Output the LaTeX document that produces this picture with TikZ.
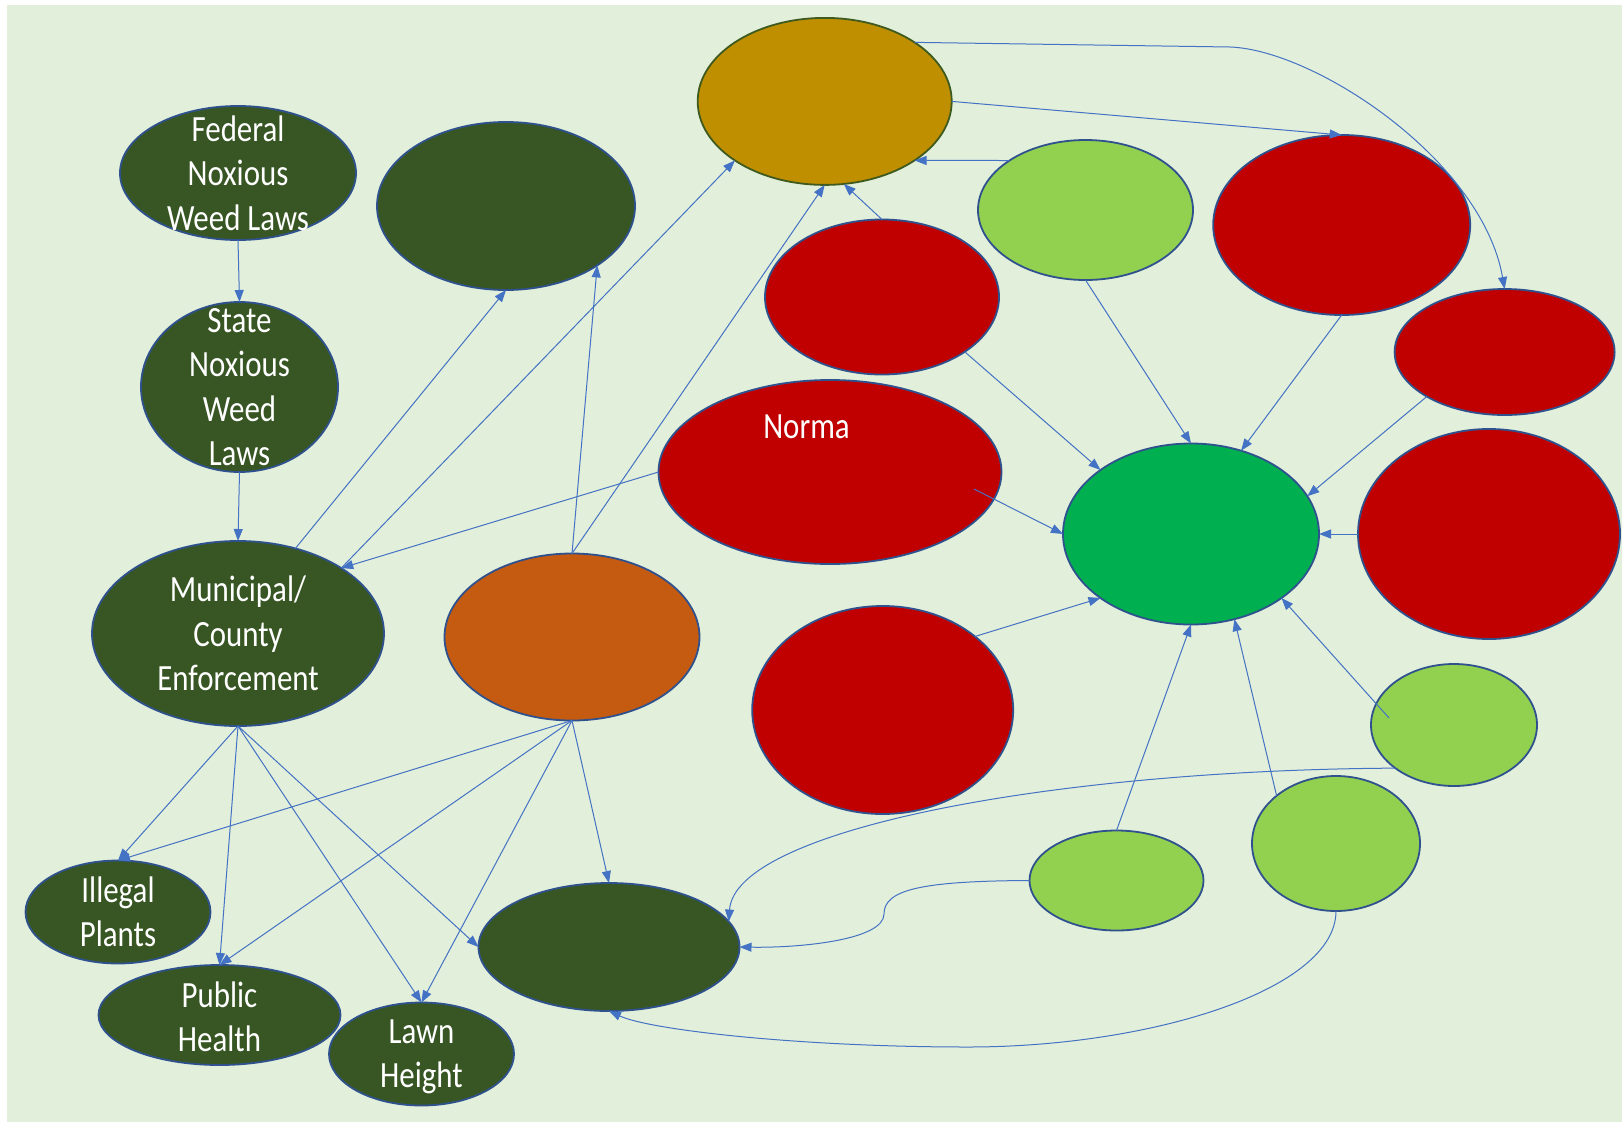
\documentclass[tikz,border=0pt]{standalone}
\usepackage{fontspec}
\usetikzlibrary{shapes.geometric,arrows.meta}
\newfontfamily\lblfont[FakeStretch=0.835]{Carlito}
\definecolor{bgc}{HTML}{E2EFDA}
\definecolor{dkg}{HTML}{375623}
\definecolor{goldc}{HTML}{BF8F00}
\definecolor{redc}{HTML}{C00000}
\definecolor{hubc}{HTML}{00B050}
\definecolor{lgc}{HTML}{92D050}
\definecolor{orngc}{HTML}{C55A11}
\definecolor{outl}{HTML}{2F528F}
\definecolor{goldoutl}{HTML}{3F5A1E}
\definecolor{lineblue}{HTML}{4472C4}
\begin{document}
\begin{tikzpicture}[x=1pt,y=-1pt,
  ell/.style={ellipse, draw=outl, line width=1.8pt, inner sep=0pt, outer sep=0pt},
  lbl/.style={text=white, font=\lblfont\fontsize{37}{44.5}\selectfont, align=center, inner sep=0pt},
  conn/.style={draw=lineblue, line width=1pt, -{Triangle[length=12pt,width=9pt]}}]
\useasboundingbox (0,0) rectangle (1622,1122);
\fill[white] (0,0) rectangle (1622,1122);
\fill[bgc] (7,4.5) rectangle (1622,1122);

% left column
\node[ell, fill=dkg, minimum width=236pt, minimum height=134pt] (fed) at (238,173) {};
\node[ell, fill=dkg, minimum width=197pt, minimum height=170pt] (state) at (239.5,387) {};
\node[ell, fill=dkg, minimum width=258pt, minimum height=168pt] (dkA) at (506,206) {};
\node[ell, fill=dkg, minimum width=292pt, minimum height=185pt] (muni) at (238,633.5) {};
\node[ell, fill=orngc, minimum width=255pt, minimum height=167pt] (orange) at (572,637) {};
\node[ell, fill=dkg, minimum width=185pt, minimum height=103pt] (illegal) at (118,912) {};
\node[ell, fill=dkg, minimum width=242pt, minimum height=100pt] (health) at (219.5,1015) {};
\node[ell, fill=dkg, minimum width=185pt, minimum height=103pt] (lawn) at (421.5,1054) {};
\node[ell, fill=dkg, minimum width=261pt, minimum height=128pt] (dkB) at (609,947) {};
% upper middle / right
\node[ell, fill=goldc, draw=goldoutl, minimum width=254pt, minimum height=167pt] (gold) at (824.7,101.4) {};
\node[ell, fill=lgc, minimum width=215pt, minimum height=140pt] (lgA) at (1085.5,210) {};
\node[ell, fill=redc, minimum width=234pt, minimum height=155pt] (redA) at (882,297) {};
\node[ell, fill=redc, minimum width=257pt, minimum height=180pt] (redB) at (1341.7,225) {};
\node[ell, fill=redc, minimum width=220pt, minimum height=126pt] (redC) at (1504.6,352) {};
\node[ell, fill=redc, minimum width=343pt, minimum height=184pt] (norma) at (830,472) {};
\node[ell, fill=hubc, minimum width=256pt, minimum height=181pt] (hub) at (1191,534) {};
\node[ell, fill=redc, minimum width=262pt, minimum height=210pt] (redD) at (1489,534) {};
\node[ell, fill=redc, minimum width=261pt, minimum height=208pt] (redE) at (882.7,710) {};
\node[ell, fill=lgc, minimum width=166pt, minimum height=122pt] (lgB) at (1454,725) {};
\node[ell, fill=lgc, minimum width=168pt, minimum height=135pt] (lgC) at (1336,843.5) {};
\node[ell, fill=lgc, minimum width=174pt, minimum height=100pt] (lgD) at (1116.5,880.5) {};

% texts
\node[lbl] (fedt) at (fed.center) {Federal\\Noxious\\Weed Laws};
\node[lbl] (statet) at (state.center) {State\\Noxious\\Weed\\Laws};
\node[lbl] (munit) at (muni.center) {Municipal/\\County\\Enforcement};
\node[lbl] (illegalt) at (illegal.center) {Illegal\\Plants};
\node[lbl] (healtht) at (219.5,1017) {Public\\Health};
\node[lbl] (lawnt) at (421.5,1057) {Lawn\\Height};
\node[lbl] (normat) at (806.5,427) {Norma};

% helper coordinates
\coordinate (pstart) at (974,489);
\coordinate (ustart) at (1389,718);
\coordinate (kbend) at (1230,47);
\coordinate (wmid) at (884,914);
\coordinate (xmid) at (968,1047);

% connectors
\draw[conn] (fed.south) -- (state.north);
\draw[conn] (state.south) -- (muni.north);
\draw[conn] (muni.56) -- (dkA.south);
\draw[conn] (muni.north east) -- (gold.south west);
\draw[conn] (norma.west) -- (muni.north east);
\draw[conn] (orange.north) -- (dkA.south east);
\draw[conn] (orange.north) -- (gold.south);
\draw[conn] (redA.north) -- (gold.-77);
\draw[conn] (lgA.north west) -- (gold.south east);
\draw[conn] (gold.east) -- (redB.north);
\draw[conn] (gold.north east) -- (kbend) .. controls (1315,50) and (1482,160) .. (redC.north);
\draw[conn] (redA.south east) -- (hub.north west);
\draw[conn] (lgA.south) -- (hub.north);
\draw[conn] (redB.south) -- (hub.59);
\draw[conn] (redC.south west) -- (hub.18);
\draw[conn] (pstart) -- (hub.west);
\draw[conn] (redD.west) -- (hub.east);
\draw[conn] (redE.north east) -- (hub.south west);
\draw[conn] (lgD.north) -- (hub.south);
\draw[conn] (lgC.north west) -- (hub.-63);
\draw[conn] (ustart) -- (hub.south east);
\draw[conn] (lgB.south west) .. controls (1050,770) and (735,830) .. (dkB.12);
\draw[conn] (lgD.west) .. controls (920,881) and (884,890) .. (wmid) .. controls (884,940) and (800,948) .. (dkB.east);
\draw[conn] (lgC.south) .. controls (1336,990) and (1150,1047) .. (xmid) .. controls (800,1047) and (650,1030) .. (dkB.south);
\draw[conn] (muni.south) -- (illegal.north);
\draw[conn] (muni.south) -- (health.north);
\draw[conn] (muni.south) -- (lawn.north);
\draw[conn] (muni.south) -- (dkB.west);
\draw[conn] (orange.south) -- (illegal.north);
\draw[conn] (orange.south) -- (health.north);
\draw[conn] (orange.south) -- (lawn.north);
\draw[conn] (orange.south) -- (dkB.north);
\end{tikzpicture}
\end{document}
